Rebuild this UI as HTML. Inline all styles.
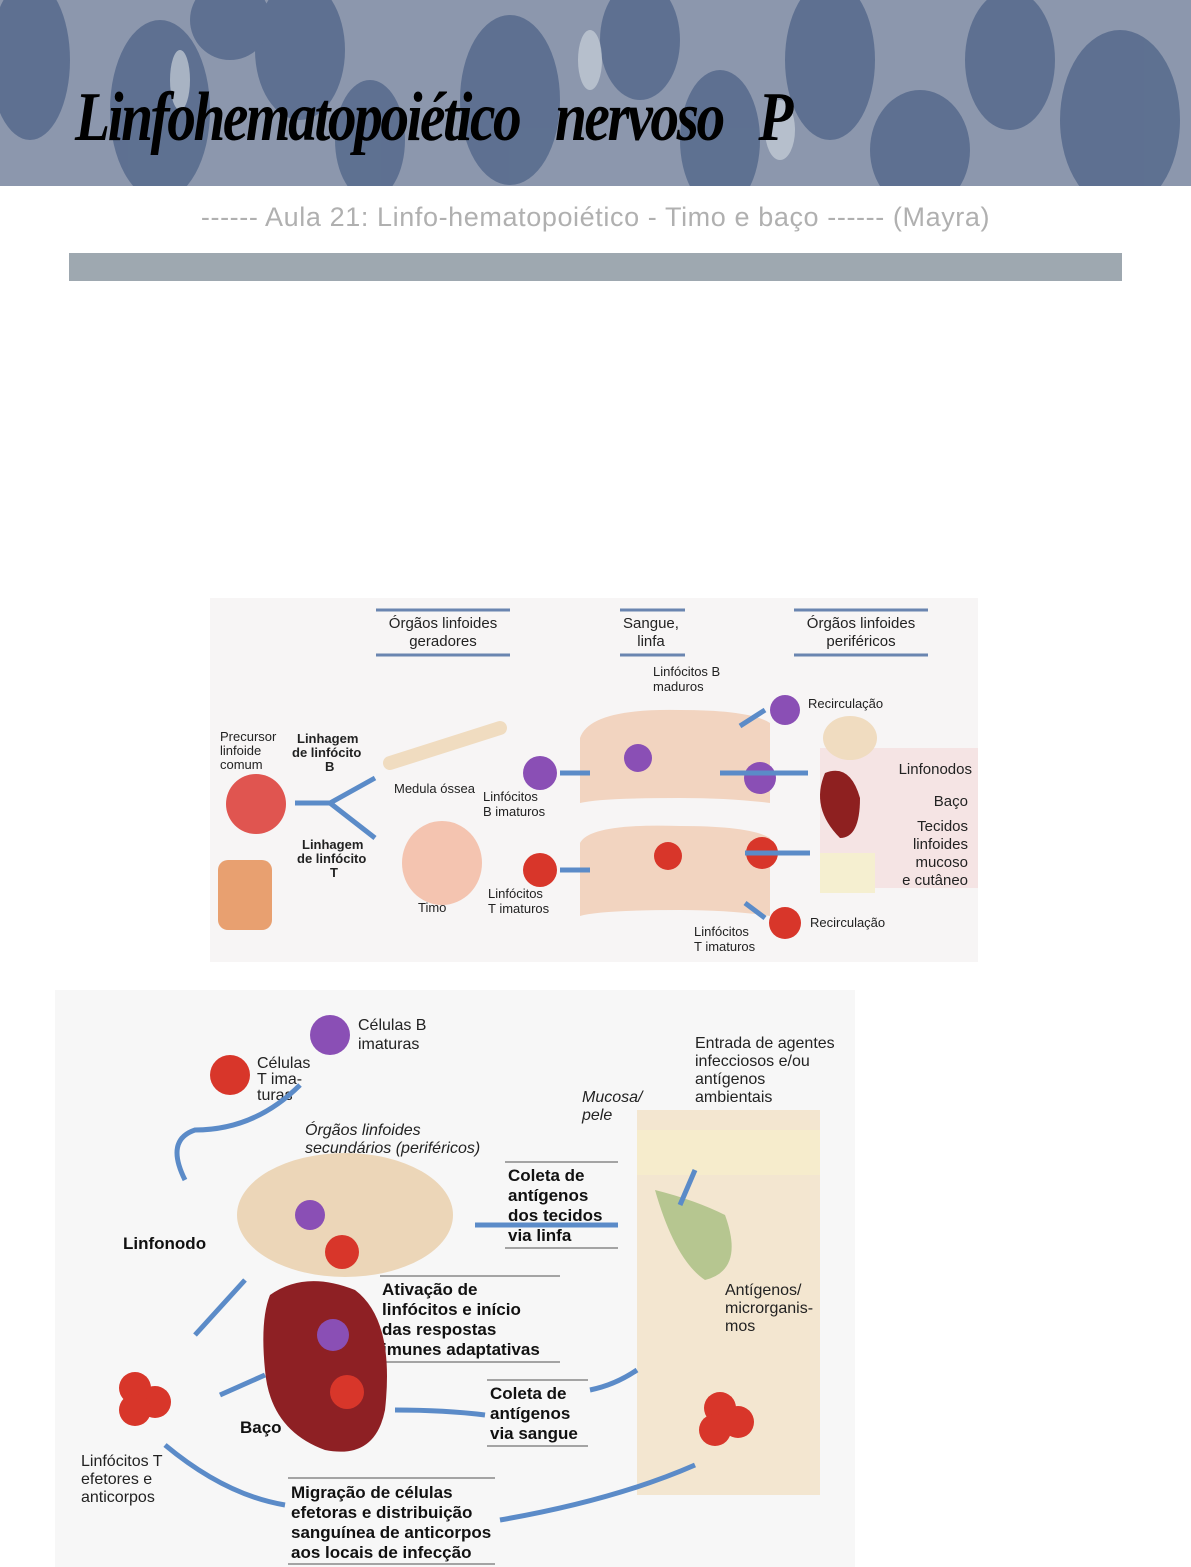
<!DOCTYPE html>
<html><head><meta charset="utf-8">
<style>
html,body{margin:0;padding:0;background:#fff;}
body{width:1191px;height:1567px;position:relative;overflow:hidden;font-family:"Liberation Sans",sans-serif;}
.hdr{position:absolute;left:0;top:0;width:1191px;height:186px;background:#8c97ad;overflow:hidden;}
.title{position:absolute;left:75px;top:78px;font-family:"Liberation Serif",serif;font-style:italic;font-weight:bold;font-size:70px;color:#000;letter-spacing:-3px;transform:scaleX(0.82);transform-origin:left;}
.sub{position:absolute;left:0;width:1191px;top:202px;text-align:center;font-size:27px;color:#b0b0b0;letter-spacing:0.6px;}
.bar{position:absolute;left:69px;top:253px;width:1053px;height:28px;background:#9ea8b0;}
svg text{font-family:"Liberation Sans",sans-serif;}
</style></head><body>
<div class="hdr">
<svg width="1191" height="186">
<g fill="#4f6488" opacity="0.75">
<ellipse cx="30" cy="60" rx="40" ry="80"/><ellipse cx="160" cy="110" rx="50" ry="90"/>
<ellipse cx="300" cy="50" rx="45" ry="70"/><ellipse cx="370" cy="140" rx="35" ry="60"/>
<ellipse cx="510" cy="100" rx="50" ry="85"/><ellipse cx="640" cy="40" rx="40" ry="60"/>
<ellipse cx="720" cy="140" rx="40" ry="70"/><ellipse cx="830" cy="60" rx="45" ry="80"/>
<ellipse cx="920" cy="150" rx="50" ry="60"/><ellipse cx="1010" cy="60" rx="45" ry="70"/>
<ellipse cx="1120" cy="120" rx="60" ry="90"/><ellipse cx="230" cy="20" rx="40" ry="40"/>
</g>
<g fill="#c8d0d8" opacity="0.7">
<ellipse cx="590" cy="60" rx="12" ry="30"/><ellipse cx="180" cy="80" rx="10" ry="30"/><ellipse cx="780" cy="130" rx="15" ry="30"/>
</g>
</svg>
<div class="title">Linfohematopoiético&nbsp;&nbsp; nervoso &nbsp; P</div>
</div>
<div class="sub">------ Aula 21: Linfo-hematopoiético - Timo e baço ------ (Mayra)</div>
<div class="bar"></div>

<svg style="position:absolute;left:210px;top:598px" width="768" height="364">
<rect width="768" height="364" fill="#f7f5f5"/>
<rect x="610" y="150" width="158" height="140" fill="#f5e4e4"/>
<g font-size="15" fill="#222" text-anchor="middle">
<text x="233" y="30">Órgãos linfoides</text><text x="233" y="48">geradores</text>
<text x="441" y="30">Sangue,</text><text x="441" y="48">linfa</text>
<text x="651" y="30">Órgãos linfoides</text><text x="651" y="48">periféricos</text>
</g>
<g stroke="#6a85b0" stroke-width="3"><line x1="166" y1="12" x2="300" y2="12"/><line x1="166" y1="57" x2="300" y2="57"/>
<line x1="410" y1="12" x2="475" y2="12"/><line x1="410" y1="57" x2="475" y2="57"/>
<line x1="584" y1="12" x2="718" y2="12"/><line x1="584" y1="57" x2="718" y2="57"/></g>
<g font-size="13" fill="#222">
<text x="10" y="143">Precursor</text><text x="10" y="157">linfoide</text><text x="10" y="171">comum</text>
<text x="87" y="145" font-weight="bold">Linhagem</text><text x="82" y="159" font-weight="bold">de linfócito</text><text x="115" y="173" font-weight="bold">B</text>
<text x="92" y="251" font-weight="bold">Linhagem</text><text x="87" y="265" font-weight="bold">de linfócito</text><text x="120" y="279" font-weight="bold">T</text>
<text x="184" y="195">Medula óssea</text><text x="273" y="203">Linfócitos</text><text x="273" y="218">B imaturos</text>
<text x="208" y="314">Timo</text><text x="278" y="300">Linfócitos</text><text x="278" y="315">T imaturos</text>
<text x="443" y="78">Linfócitos B</text><text x="443" y="93">maduros</text>
<text x="598" y="110">Recirculação</text><text x="600" y="329">Recirculação</text>
<text x="484" y="338">Linfócitos</text><text x="484" y="353">T imaturos</text>
</g>
<g font-size="15" fill="#222" text-anchor="end"><text x="762" y="176">Linfonodos</text><text x="758" y="208">Baço</text>
<text x="758" y="233">Tecidos</text><text x="758" y="251">linfoides</text><text x="758" y="269">mucoso</text><text x="758" y="287">e cutâneo</text></g>
<circle cx="46" cy="206" r="30" fill="#e05550"/>
<rect x="8" y="262" width="54" height="70" rx="10" fill="#e8a070"/>
<path d="M85 205 L120 205 L165 180 M120 205 L165 240" stroke="#5b8bc8" stroke-width="5" fill="none"/>
<path d="M180 165 L290 130" stroke="#f0dcc0" stroke-width="14" stroke-linecap="round"/>
<ellipse cx="232" cy="265" rx="40" ry="42" fill="#f4c4b0"/>
<path d="M370 140 Q380 110 470 112 Q540 112 560 125 L560 205 Q520 200 470 200 Q390 200 370 205Z" fill="#f2d4c0"/>
<path d="M370 245 Q380 225 470 228 Q540 228 560 240 L560 318 Q520 312 470 312 Q390 312 370 318Z" fill="#f2d4c0"/>
<g fill="#8a4fb5"><circle cx="330" cy="175" r="17"/><circle cx="428" cy="160" r="14"/><circle cx="550" cy="180" r="16"/><circle cx="575" cy="112" r="15"/></g>
<g fill="#d8362a"><circle cx="330" cy="272" r="17"/><circle cx="458" cy="258" r="14"/><circle cx="552" cy="255" r="16"/><circle cx="575" cy="325" r="16"/></g>
<ellipse cx="640" cy="140" rx="27" ry="22" fill="#f0dcc0"/>
<path d="M615 175 Q640 165 650 200 Q650 240 630 240 Q600 210 615 175Z" fill="#8e2020"/>
<rect x="610" y="255" width="55" height="40" fill="#f5efd0"/>
<g stroke="#5b8bc8" stroke-width="5" fill="none"><path d="M350 175 H380"/><path d="M350 272 H380"/><path d="M510 175 H598"/><path d="M535 255 H600"/><path d="M555 112 L530 128"/><path d="M555 320 L535 305"/></g>
</svg>

<svg style="position:absolute;left:55px;top:990px" width="800" height="577">
<rect width="800" height="577" fill="#f7f7f7"/>
<rect x="582" y="120" width="183" height="385" fill="#f3e6d0"/>
<rect x="582" y="140" width="183" height="45" fill="#f6eccc"/>
<g font-size="16" fill="#222">
<text x="303" y="40">Células B</text><text x="303" y="59">imaturas</text>
<text x="202" y="78">Células</text><text x="202" y="94">T ima-</text><text x="202" y="110">turas</text>
<text x="640" y="58">Entrada de agentes</text><text x="640" y="76">infecciosos e/ou</text><text x="640" y="94">antígenos</text><text x="640" y="112">ambientais</text>
<text x="670" y="305">Antígenos/</text><text x="670" y="323">microrganis-</text><text x="670" y="341">mos</text>
<text x="26" y="476">Linfócitos T</text><text x="26" y="494">efetores e</text><text x="26" y="512">anticorpos</text>
</g>
<g font-size="16" fill="#222" font-style="italic"><text x="250" y="145">Órgãos linfoides</text><text x="250" y="163">secundários (periféricos)</text>
<text x="527" y="112">Mucosa/</text><text x="527" y="130">pele</text></g>
<g font-size="17" fill="#111" font-weight="bold">
<text x="453" y="191">Coleta de</text><text x="453" y="211">antígenos</text><text x="453" y="231">dos tecidos</text><text x="453" y="251">via linfa</text>
<text x="68" y="259">Linfonodo</text>
<text x="327" y="305">Ativação de</text><text x="327" y="325">linfócitos e início</text><text x="327" y="345">das respostas</text><text x="327" y="365">imunes adaptativas</text>
<text x="435" y="409">Coleta de</text><text x="435" y="429">antígenos</text><text x="435" y="449">via sangue</text>
<text x="185" y="443">Baço</text>
<text x="236" y="508">Migração de células</text><text x="236" y="528">efetoras e distribuição</text><text x="236" y="548">sanguínea de anticorpos</text><text x="236" y="568">aos locais de infecção</text>
</g>
<g stroke="#888" stroke-width="1.5"><line x1="450" y1="172" x2="563" y2="172"/><line x1="450" y1="258" x2="563" y2="258"/>
<line x1="325" y1="286" x2="505" y2="286"/><line x1="325" y1="372" x2="505" y2="372"/>
<line x1="432" y1="390" x2="533" y2="390"/><line x1="432" y1="456" x2="533" y2="456"/>
<line x1="233" y1="488" x2="440" y2="488"/><line x1="233" y1="574" x2="440" y2="574"/></g>
<ellipse cx="290" cy="225" rx="108" ry="62" fill="#ecd6b8"/>
<path d="M215 305 Q250 280 300 300 Q340 330 330 420 Q320 470 270 460 Q215 440 210 380 Q205 330 215 305Z" fill="#8e2024"/>
<path d="M600 200 Q640 210 670 225 Q690 280 650 290 Q620 270 600 200Z" fill="#b6c690"/>
<g fill="#8a4fb5"><circle cx="275" cy="45" r="20"/><circle cx="255" cy="225" r="15"/><circle cx="278" cy="345" r="16"/></g>
<g fill="#d8362a"><circle cx="175" cy="85" r="20"/><circle cx="287" cy="262" r="17"/><circle cx="292" cy="402" r="17"/>
<circle cx="80" cy="398" r="16"/><circle cx="100" cy="412" r="16"/><circle cx="80" cy="420" r="16"/>
<circle cx="665" cy="418" r="16"/><circle cx="683" cy="432" r="16"/><circle cx="660" cy="440" r="16"/></g>
<g stroke="#5b8bc8" stroke-width="5" fill="none">
<path d="M245 95 Q200 140 140 140 Q110 150 130 190"/><path d="M563 235 H420"/>
<path d="M582 380 Q560 395 535 400"/><path d="M430 425 Q390 420 340 420"/>
<path d="M190 290 L140 345"/><path d="M210 385 L165 405"/><path d="M110 455 Q170 505 230 515"/><path d="M445 530 Q560 510 640 475"/><path d="M640 180 L625 215"/>
</g>
</svg>
</body></html>
